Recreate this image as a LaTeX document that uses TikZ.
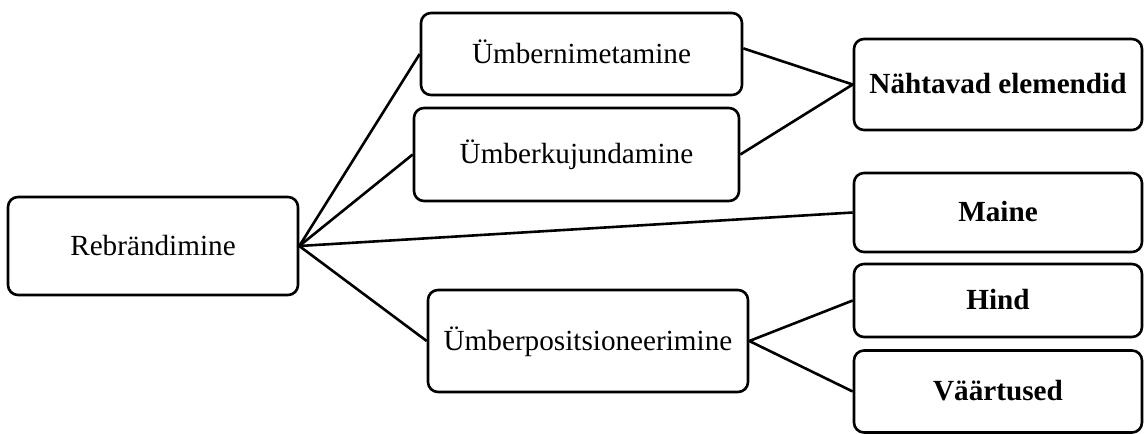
\documentclass[tikz,border=0pt]{standalone}
\usepackage{fontspec}
\setmainfont{Liberation Serif}
\begin{document}
\begin{tikzpicture}[x=1pt,y=-1pt,
  box/.style={draw, line width=2.6pt, rounded corners=10pt, inner sep=0pt,
    text height=22pt, text depth=4pt, align=center,
    font=\fontsize{29.2}{35}\selectfont},
  boldbox/.style={box, font=\fontsize{29.2}{35}\selectfont\bfseries},
  link/.style={line width=2.6pt}]
\useasboundingbox (0,0) rectangle (1144,434);

% root
\node[box, minimum width=290pt, minimum height=98pt] (reb) at (153,246) {Rebrändimine};

% middle column
\node[box, minimum width=321pt, minimum height=82pt] (ren) at (581.5,54) {Ümbernimetamine};
\node[box, minimum width=325pt, minimum height=93pt] (rede) at (576.5,154.5) {Ümberkujundamine};
\node[box, minimum width=320pt, minimum height=102pt] (repos) at (588,341) {Ümberpositsioneerimine};

% right column
\node[boldbox, minimum width=288pt, minimum height=91pt] (vis) at (998,84.5) {Nähtavad elemendid};
\node[boldbox, minimum width=288pt, minimum height=79pt] (maine) at (998,212.5) {Maine};
\node[boldbox, minimum width=288pt, minimum height=73pt] (hind) at (998,300.5) {Hind};
\node[boldbox, minimum width=288pt, minimum height=82pt] (val) at (998,391.5) {Väärtused};

% connectors
\draw[link] (reb.east) -- (ren.west);
\draw[link] (reb.east) -- (rede.west);
\draw[link] (reb.east) -- (maine.west);
\draw[link] (reb.east) -- (repos.west);
\draw[link] (ren.2) -- (vis.west);
\draw[link] (rede.east) -- (vis.west);
\draw[link] (repos.east) -- (hind.west);
\draw[link] (repos.east) -- (val.west);
\end{tikzpicture}
\end{document}
